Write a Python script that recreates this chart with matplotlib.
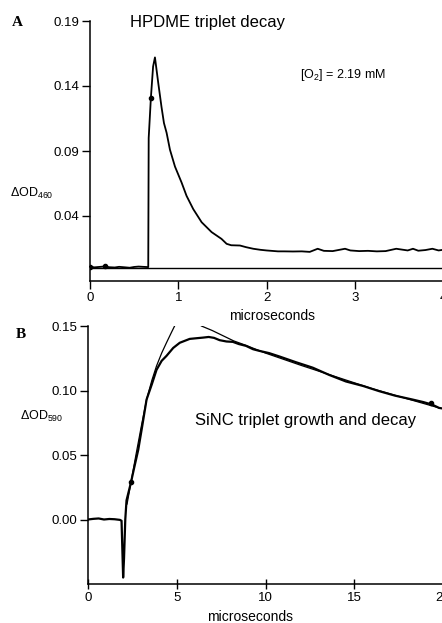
import matplotlib
matplotlib.use("Agg")
import matplotlib.pyplot as plt

plt.rcParams['font.family'] = ['Liberation Sans', 'DejaVu Sans']
plt.rcParams['mathtext.fontset'] = 'custom'
plt.rcParams['mathtext.rm'] = 'Liberation Sans'
plt.rcParams['mathtext.it'] = 'Liberation Sans:italic'

# ---------------- Panel A data (HPDME triplet decay) ----------------
a_t = [0, 0.05, 0.1, 0.17, 0.22, 0.28, 0.33, 0.4, 0.45, 0.5, 0.55, 0.6, 0.66,
       0.665, 0.69, 0.715, 0.736, 0.774, 0.81, 0.838, 0.868, 0.906, 0.963,
       1.038, 1.094, 1.17, 1.265, 1.378, 1.49, 1.548, 1.6, 1.699, 1.77, 1.85,
       1.93, 2.0, 2.13, 2.2, 2.3, 2.4, 2.49, 2.58, 2.65, 2.75, 2.89, 2.95,
       3.05, 3.15, 3.25, 3.35, 3.47, 3.55, 3.6, 3.66, 3.72, 3.8, 3.88, 3.95, 4.0]
a_v = [0.001, 0.0005, 0.0008, 0.0012, 0.0006, 0.0004, 0.0009, 0.0005, 0.0002,
       0.0008, 0.0011, 0.0009, 0.0007,
       0.10, 0.131, 0.155, 0.162, 0.142, 0.124, 0.1115, 0.104, 0.091, 0.078,
       0.0657, 0.0555, 0.0453, 0.0352, 0.0276, 0.0224, 0.0186, 0.0175, 0.0173,
       0.016, 0.0148, 0.014, 0.0135, 0.0128, 0.0128, 0.0127, 0.0128, 0.0124,
       0.0148, 0.0132, 0.013, 0.0148, 0.0135, 0.013, 0.0132, 0.0128, 0.013,
       0.0148, 0.014, 0.0135, 0.0148, 0.0133, 0.0138, 0.0148, 0.0135, 0.014]
a_mark_t = [0, 0.17, 0.69]
a_mark_v = [0.001, 0.0012, 0.131]
a_zero = 0.0
a_xticks = [0, 1, 2, 3, 4]
a_yticks = [0.04, 0.09, 0.14, 0.19]

# ---------------- Panel B data (SiNC triplet growth and decay) ----------------
b_t = [0, 0.3, 0.6, 0.9, 1.2, 1.5, 1.8, 1.89, 1.98, 2.03, 2.1, 2.17, 2.3, 2.42,
       2.6, 2.83, 3.05, 3.3, 3.6, 3.86, 4.15, 4.42, 4.8, 5.17, 5.73, 6.1, 6.48,
       6.8, 7.1, 7.42, 7.8, 8.16, 8.5, 8.9, 9.3, 9.66, 10.2, 10.8, 11.7, 12.66,
       13.6, 14.53, 15.5, 16.4, 17.3, 18.28, 18.9, 19.4, 19.78, 20]
b_v = [0, 0.0005, 0.0008, 0, 0.0004, 0.0002, -0.0003, -0.001, -0.045, -0.03,
       0.0, 0.0148, 0.022, 0.0287, 0.04, 0.054, 0.072, 0.093, 0.105, 0.116,
       0.123, 0.1268, 0.133, 0.137, 0.140, 0.1405, 0.141, 0.1415, 0.1408, 0.139,
       0.138, 0.1377, 0.136, 0.1346, 0.132, 0.1307, 0.129, 0.1263, 0.122, 0.1177,
       0.112, 0.107, 0.1035, 0.0995, 0.096, 0.093, 0.091, 0.089, 0.0865, 0.086]
b_grow_t = [2.2, 2.42, 2.7, 3.0, 3.3, 3.6, 3.86, 4.15, 4.42, 4.7, 4.95]
b_grow_v = [0.012, 0.0287, 0.05, 0.072, 0.093, 0.108, 0.119, 0.129, 0.137, 0.145, 0.152]
b_dec_t = [6.39, 7.0, 7.6, 8.2, 8.9, 10, 12, 14, 16, 18, 19.78]
b_dec_v = [0.150, 0.1465, 0.1425, 0.1385, 0.1350, 0.129, 0.1195, 0.1105, 0.1015, 0.0935, 0.0865]
b_mark_t = [2.42, 19.3]
b_mark_v = [0.0287, 0.0905]
b_xticks = [0, 5, 10, 15, 20]
b_yticks = [0.00, 0.05, 0.10, 0.15]

W, H = 442, 623
fig = plt.figure(figsize=(W / 100, H / 100), dpi=100)


def fpos(x0, y_top, x1, y_bot):
    return [x0 / W, 1 - y_bot / H, (x1 - x0) / W, (y_bot - y_top) / H]


def ftext(x, y, s, **kw):
    fig.text(x / W, 1 - y / H, s, **kw)


def style(ax):
    for side in ['top', 'right']:
        ax.spines[side].set_visible(False)
    for side in ['left', 'bottom']:
        ax.spines[side].set_linewidth(1.1)
    ax.tick_params(axis='both', direction='out', length=5.5, width=1.0,
                   labelsize=9.5, pad=2.5, colors='black')


# Panel A
axA = fig.add_axes(fpos(90, 21, 443, 281))
axA.plot(a_t, a_v, color='black', lw=1.3, clip_on=False)
axA.axhline(a_zero, color='black', lw=1.0)
axA.plot(a_mark_t, a_mark_v, 'o', color='black', ms=3)
axA.set_xlim(0, 4)
axA.set_ylim(-0.01, 0.19)
axA.set_xticks(a_xticks)
axA.set_yticks(a_yticks)
axA.set_yticklabels([f'{v:.2f}' for v in a_yticks])
style(axA)

# Panel B
axB = fig.add_axes(fpos(88, 326, 443, 584))
axB.plot(b_t, b_v, color='black', lw=1.6)
axB.plot(b_grow_t, b_grow_v, color='black', lw=0.9)
axB.plot(b_dec_t, b_dec_v, color='black', lw=0.9)
axB.plot(b_mark_t, b_mark_v, 'o', color='black', ms=3)
axB.set_xlim(0, 20)
axB.set_ylim(-0.05, 0.15)
axB.set_xticks(b_xticks)
axB.set_yticks(b_yticks)
axB.set_yticklabels([f'{v:.2f}' for v in b_yticks])
style(axB)
axB.tick_params(axis='x', direction='inout', length=7)

# Texts
ftext(12, 22, 'A', family='Liberation Serif', weight='bold', fontsize=11, va='center')
ftext(130, 22, 'HPDME triplet decay', fontsize=12, va='center')
ftext(300, 75, r'[O$_2$] = 2.19 mM', fontsize=9, va='center')
ftext(10, 193, r'ΔOD$_{460}$', fontsize=9, va='center')
ftext(272, 316, 'microseconds', fontsize=10, ha='center', va='center')

ftext(16, 334, 'B', family='Liberation Serif', weight='bold', fontsize=11, va='center')
ftext(195, 420, 'SiNC triplet growth and decay', fontsize=12, va='center')
ftext(20, 416, r'ΔOD$_{590}$', fontsize=9, va='center')
ftext(250, 617, 'microseconds', fontsize=10, ha='center', va='center')

fig.savefig('out.png', dpi=100)
